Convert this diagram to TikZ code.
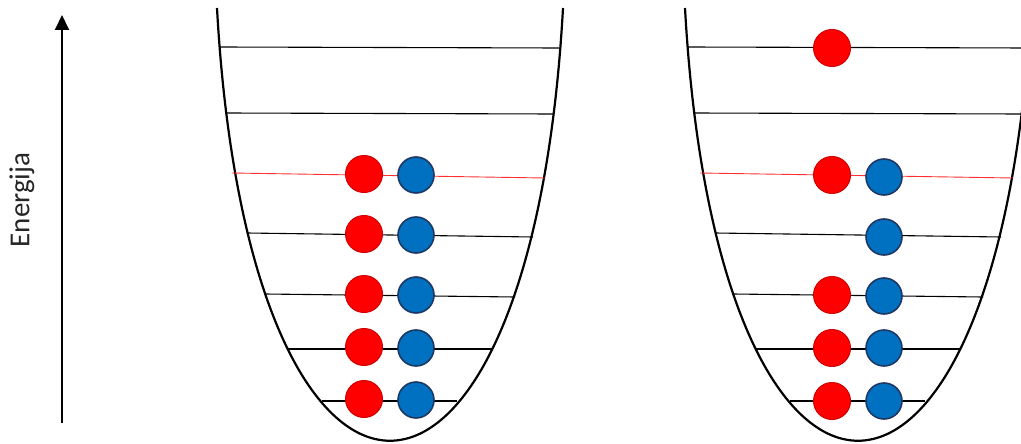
\documentclass[tikz,border=0pt]{standalone}
\usepackage{fontspec}
\setmainfont{Carlito}
\usetikzlibrary{arrows.meta}
\definecolor{ballred}{HTML}{FF0000}
\definecolor{redrim}{HTML}{D00000}
\definecolor{ballblue}{HTML}{0070C0}
\definecolor{bluerim}{HTML}{1F3864}
\definecolor{levelred}{HTML}{FF3030}

\begin{document}
\begin{tikzpicture}[x=1pt,y=-1pt,
  well/.style={line width=2.2pt},
  level/.style={line width=1.1pt},
  proton/.style={circle,draw=redrim,fill=ballred,line width=1pt,minimum size=37pt,inner sep=0pt},
  neutron/.style={circle,draw=bluerim,fill=ballblue,line width=1.6pt,minimum size=36pt,inner sep=0pt}]
  \useasboundingbox (0,0) rectangle (1021,444);
  \clip (0,0) rectangle (1021,444);
  % energy axis
  \coordinate (e0) at (62,423);
  \coordinate (e1) at (62,15);
  \draw[line width=2pt,-{Triangle[length=15pt,width=14pt]}] (e0) -- (e1);
  \node[rotate=90,text=black!85,font=\fontsize{29}{29}\selectfont] (lab) at (22,200) {Energija};
  % two wells with their levels
  \foreach \dx in {0,468} {
    \begin{scope}[xshift=\dx pt]
      \draw[well] (217,8) .. controls (249,585) and (531,585) .. (563,8);
      \foreach \xa/\ya/\xb/\yb in {220/47/559/48, 225/113/554/114, 247/233/533/237,
                                   265/294/515/297, 288/349/493/349, 322/401/457/401}
        \draw[level] (\xa,\ya) -- (\xb,\yb);
      \draw[level,levelred,line width=0.9pt] (232,173) -- (545,178);
    \end{scope}
  }
  % left well: filled
  \foreach \y [count=\i] in {174,234,294,347,399} {
    \node[proton] (pa\i) at (364,\y) {};
    \node[neutron] (na\i) at (416,\y+1) {};
  }
  % right well: one proton lifted
  \node[proton] (pb0) at (832,48) {};
  \foreach \y [count=\i] in {175,295,348,401}
    \node[proton] (pb\i) at (832,\y) {};
  \foreach \y [count=\i] in {177,237,296,348,401}
    \node[neutron] (nb\i) at (884,\y) {};
\end{tikzpicture}
\end{document}
